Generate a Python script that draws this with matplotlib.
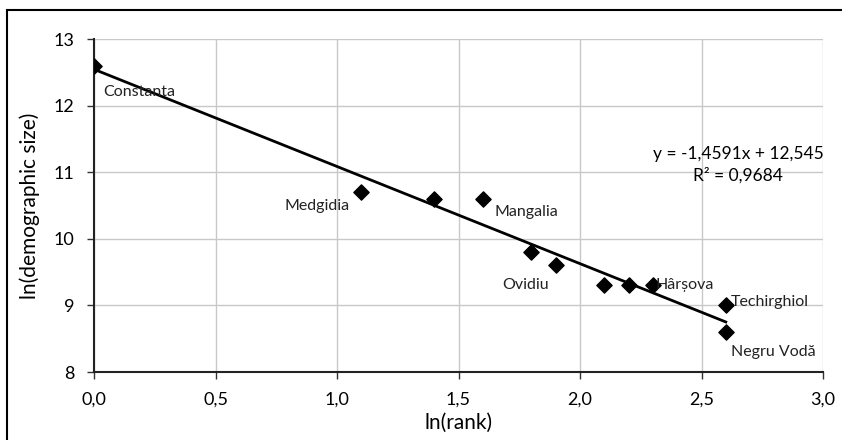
import matplotlib
matplotlib.use("Agg")
import matplotlib.pyplot as plt
from matplotlib.patches import Rectangle
import numpy as np

plt.rcParams['font.family'] = ['Lato', 'DejaVu Sans']

ln_rank = [0.0, 1.1, 1.4, 1.6, 1.8, 1.9, 2.1, 2.2, 2.3, 2.6, 2.6]
ln_size = [12.6, 10.7, 10.6, 10.6, 9.8, 9.6, 9.3, 9.3, 9.3, 9.0, 8.6]

labels = ["Constanta", "Medgidia", "Mangalia", "Ovidiu", "Hârșova", "Techirghiol", "Negru Vodă"]
label_x = [0.04, 1.05, 1.65, 1.68, 2.31, 2.62, 2.62]
label_y = [12.2, 10.5, 10.4, 9.3, 9.3, 9.05, 8.3]
label_ha = ["left", "right", "left", "left", "left", "left", "left"]

slope = -1.4591
intercept = 12.545
trend_x = [0.0, 2.6]

x_ticks = [0.0, 0.5, 1.0, 1.5, 2.0, 2.5, 3.0]
x_ticklabels = ["0,0", "0,5", "1,0", "1,5", "2,0", "2,5", "3,0"]
y_ticks = [8, 9, 10, 11, 12, 13]

fig = plt.figure(figsize=(8.42, 4.4), dpi=100)
ax = fig.add_axes([94/842, 1-372/440, (823-94)/842, (372-39)/440])

ax.grid(True, color='#c8c8c8', linewidth=1.0)
ax.set_axisbelow(True)
tx = np.array(trend_x)
ax.plot(tx, slope*tx + intercept, color='black', linewidth=2, zorder=2)
ax.scatter(ln_rank, ln_size, marker='D', s=60, color='black', zorder=3)

for t, x, y, ha in zip(labels, label_x, label_y, label_ha):
    ax.text(x, y, t, fontsize=11.5, ha=ha, va='center', color='#222222')

ax.text(2.65, 11.28, "y = -1,4591x + 12,545", fontsize=12.5, ha='center', va='center')
ax.text(2.65, 10.95, "R² = 0,9684", fontsize=12.5, ha='center', va='center')

ax.set_xlim(0, 3.0)
ax.set_ylim(8, 13)
ax.set_xticks(x_ticks)
ax.set_xticklabels(x_ticklabels)
ax.set_yticks(y_ticks)
ax.tick_params(axis='both', labelsize=13, length=5, width=1, color='#333333',
               direction='out', pad=9)
for s in ['top', 'right']:
    ax.spines[s].set_visible(False)
for s in ['left', 'bottom']:
    ax.spines[s].set_color('#222222')
    ax.spines[s].set_linewidth(1.5)
ax.set_xlabel("ln(rank)", fontsize=15, labelpad=4)
ax.set_ylabel("ln(demographic size)", fontsize=15, labelpad=10)

fig.patches.append(Rectangle((7/842, -0.01), 1.0, 1-10/440+0.01, transform=fig.transFigure,
                             fill=False, edgecolor='black', linewidth=1.5))

fig.savefig("out.png", dpi=100)
